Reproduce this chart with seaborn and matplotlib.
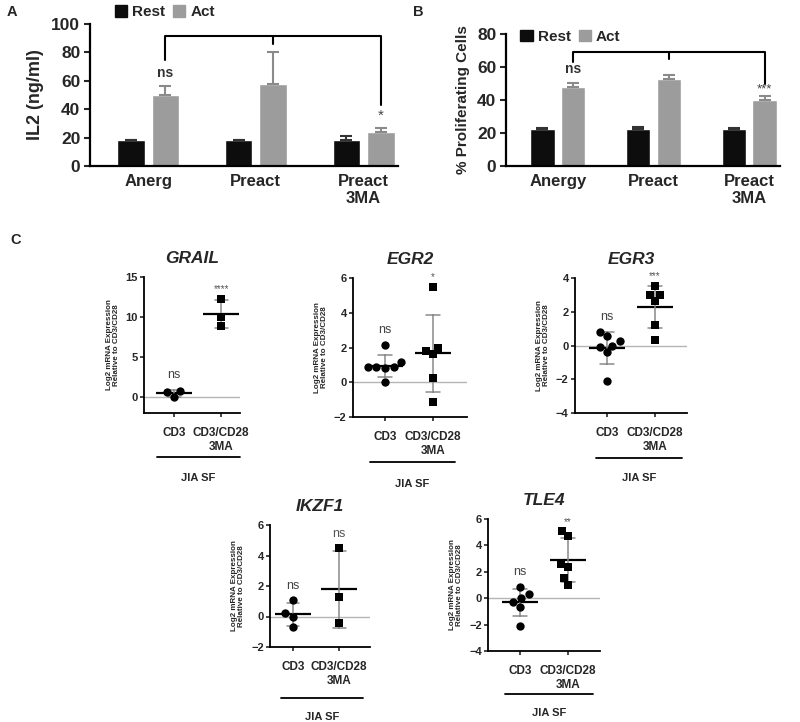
import numpy as np
import pandas as pd
import matplotlib
import matplotlib.pyplot as plt
import seaborn as sns
from matplotlib.lines import Line2D
from matplotlib.patches import Patch

matplotlib.use("Agg")

# ---- panel A / B : bar charts ----
bar_groups_a = ["Anerg", "Preact", "Preact\n3MA"]
bar_groups_b = ["Anergy", "Preact", "Preact\n3MA"]
conditions = ["Rest", "Act"]

il2_rest = [18, 18, 18]
il2_rest_err = [0.5, 0.5, 3]
il2_act = [50, 57.5, 24]
il2_act_err = [6.5, 23, 2.5]

prolif_rest = [22.5, 22.5, 22.5]
prolif_rest_err = [0.5, 1, 0.5]
prolif_act = [48, 53, 40]
prolif_act_err = [2.3, 2.3, 2.7]

# ---- panel C : qPCR scatter ----
groups_c = ["CD3", "CD3/CD28\n3MA"]
genes = ["GRAIL", "EGR2", "EGR3", "IKZF1", "TLE4"]
cd3_values = {
    "GRAIL": [0.75, 0.0, 0.6],
    "EGR2": [2.15, 0.85, 0.8, 0.85, 0.9, 1.15, 0.0],
    "EGR3": [0.8, 0.25, 0.55, -0.1, 0.0, -0.4, -2.1],
    "IKZF1": [1.1, 0.2, 0.0, -0.7],
    "TLE4": [0.85, 0.0, 0.3, -0.3, -0.7, -2.1],
}
ma_values = {
    "GRAIL": [12.3, 10.0, 8.9],
    "EGR2": [5.5, 1.95, 1.6, 1.8, 0.25, -1.15],
    "EGR3": [3.55, 3.0, 3.0, 2.65, 1.2, 0.3],
    "IKZF1": [4.5, 1.3, -0.45],
    "TLE4": [5.1, 4.75, 2.6, 2.35, 1.5, 1.0],
}
cd3_labels = {"GRAIL": "ns", "EGR2": "ns", "EGR3": "ns", "IKZF1": "ns", "TLE4": "ns"}
ma_labels = {"GRAIL": "****", "EGR2": "*", "EGR3": "***", "IKZF1": "ns", "TLE4": "**"}
ylims = {"GRAIL": (-2, 15), "EGR2": (-2, 6), "EGR3": (-4, 4), "IKZF1": (-2, 6), "TLE4": (-4, 6)}
yticks = {"GRAIL": [0, 5, 10, 15], "EGR2": [-2, 0, 2, 4, 6], "EGR3": [-4, -2, 0, 2, 4],
          "IKZF1": [-2, 0, 2, 4, 6], "TLE4": [-4, -2, 0, 2, 4, 6]}

sns.set_theme(style="ticks")
plt.rcParams["font.family"] = ["Liberation Sans", "DejaVu Sans"]
plt.rcParams["font.weight"] = "bold"

W, H = 800, 722
fig = plt.figure(figsize=(8, 7.22), dpi=100)
fig.patch.set_facecolor("white")

BLACK = "#0d0d0d"
GREY = "#9c9c9c"


def px_axes(left, top, right, bottom):
    return fig.add_axes([left / W, 1 - bottom / H, (right - left) / W, (bottom - top) / H])


def fig_line(x0, x1, y, lw=1.3):
    fig.add_artist(Line2D([x0 / W, x1 / W], [1 - y / H, 1 - y / H],
                          transform=fig.transFigure, color="black", lw=lw))


def fig_text(x, y, s, **kw):
    fig.text(x / W, 1 - y / H, s, ha="center", va="center", **kw)


def bar_panel(ax, groups, rest, rest_err, act, act_err, ylim, ystep, ylabel, yl_size):
    df = pd.DataFrame({
        "group": groups * 2,
        "condition": ["Rest"] * 3 + ["Act"] * 3,
        "value": rest + act,
    })
    sns.barplot(data=df, x="group", y="value", hue="condition", hue_order=conditions,
                palette={"Rest": BLACK, "Act": GREY}, width=0.64, gap=0.2,
                errorbar=None, legend=False, saturation=1, ax=ax)
    bars = sorted(ax.patches, key=lambda p: p.get_x())
    errs = [e for pair in zip(rest_err, act_err) for e in pair]
    cols = [c for _ in groups for c in ("#333333", "#8a8a8a")]
    for p, e, c in zip(bars, errs, cols):
        xc = p.get_x() + p.get_width() / 2
        ax.errorbar(xc, p.get_height(), yerr=[[0], [e]], fmt="none", ecolor=c,
                    elinewidth=1.5, capsize=4, capthick=1.5, zorder=1)
    ax.set_ylim(*ylim)
    ax.set_yticks(np.arange(ylim[0], ylim[1] + 1, ystep))
    ax.set_xlim(-0.54, 2.32)
    ax.set_xlabel("")
    ax.set_ylabel(ylabel, fontsize=yl_size, fontweight="bold", labelpad=5)
    ax.tick_params(axis="y", labelsize=12.5, length=4, width=1.5, pad=3)
    ax.tick_params(axis="x", labelsize=12, length=0, pad=6)
    for lab in ax.get_xticklabels() + ax.get_yticklabels():
        lab.set_fontweight("bold")
    for lab in ax.get_xticklabels():
        lab.set_linespacing(1.15)
    sns.despine(ax=ax)
    for s in ("left", "bottom"):
        ax.spines[s].set_linewidth(1.6)
        ax.spines[s].set_color("black")
    return bars


def bracket(ax, bars, top, left_y, right_y, mid_y):
    # bars sorted by x: Rest0, Act0, Rest1, Act1, Rest2, Act2
    xs = [b.get_x() + b.get_width() / 2 for b in bars]
    xl, xm, xr = xs[1], xs[3], xs[5]
    ax.plot([xl, xl, xr, xr], [left_y, top, top, right_y], color="black", lw=1.5,
            clip_on=False)
    ax.plot([xm, xm], [top, mid_y], color="black", lw=1.5, clip_on=False)
    return xs


legend_handles = [Patch(facecolor=BLACK, edgecolor=BLACK, label="Rest"),
                  Patch(facecolor=GREY, edgecolor=GREY, label="Act")]

# ---- A ----
axA = px_axes(90, 24, 398, 166)
barsA = bar_panel(axA, bar_groups_a, il2_rest, il2_rest_err, il2_act, il2_act_err,
                  (0, 100), 20, "IL2 (ng/ml)", 13)
xsA = bracket(axA, barsA, 91.5, 75, 43, 86)
axA.text(xsA[1], 65.5, "ns", ha="center", va="center", fontsize=10, color="#333333")
axA.text(xsA[5], 35.5, "*", ha="center", va="center", fontsize=11, color="#444444",
         fontweight="normal")
axA.legend(handles=legend_handles, ncol=2, frameon=False, loc="center left",
           bbox_to_anchor=(0.06, 1.085), handlelength=0.8, handleheight=0.8,
           handletextpad=0.35, columnspacing=0.5, prop={"size": 11, "weight": "bold"},
           borderaxespad=0)
fig_text(12, 12, "A", fontsize=10.5, fontweight="bold")

# ---- B ----
axB = px_axes(506, 34, 780, 166)
barsB = bar_panel(axB, bar_groups_b, prolif_rest, prolif_rest_err, prolif_act,
                  prolif_act_err, (0, 80), 20, "% Proliferating Cells", 11)
xsB = bracket(axB, barsB, 69, 63, 50, 65)
axB.text(xsB[1], 59, "ns", ha="center", va="center", fontsize=10, color="#333333")
axB.text(xsB[5], 46.5, "***", ha="center", va="center", fontsize=9.5, color="#444444",
         fontweight="normal")
axB.legend(handles=legend_handles, ncol=2, frameon=False, loc="center left",
           bbox_to_anchor=(0.03, 0.98), handlelength=0.8, handleheight=0.8,
           handletextpad=0.35, columnspacing=0.5, prop={"size": 11, "weight": "bold"},
           borderaxespad=0)
fig_text(418, 12, "B", fontsize=10.5, fontweight="bold")

fig_text(16, 240, "C", fontsize=10.5, fontweight="bold")

# ---- C panels ----
# pixel boxes (left, top, right, bottom), x-limits, and JIA SF decoration
boxes = {
    "GRAIL": ((144, 277, 240, 413), (-0.64, 1.4), (157, 240, 457, 478)),
    "EGR2": ((353, 278, 467, 417), (-0.67, 1.71), (370, 455, 462, 484)),
    "EGR3": ((575, 278, 687, 413), (-0.67, 1.67), (596, 682, 458, 478)),
    "IKZF1": ((270, 525, 370, 647), (-0.5, 1.67), (281, 363, 698, 717)),
    "TLE4": ((488, 519, 600, 651), (-0.67, 1.67), (505, 593, 694, 713)),
}

for gene in genes:
    (l, t, r, b), xlim, (jx0, jx1, jy, jty) = boxes[gene]
    ax = px_axes(l, t, r, b)
    df_cd3 = pd.DataFrame({"group": groups_c[0], "value": cd3_values[gene]})
    df_ma = pd.DataFrame({"group": groups_c[1], "value": ma_values[gene]})
    df_all = pd.concat([df_cd3, df_ma], ignore_index=True)

    ax.axhline(0, color="#b5b5b5", lw=1, zorder=0)
    sns.pointplot(data=df_all, x="group", y="value", order=groups_c, estimator="mean",
                  errorbar="sd", capsize=0.28, color="black", markers="_",
                  markersize=26, markeredgewidth=1.6, linestyle="none",
                  err_kws={"color": "#8a8a8a", "linewidth": 1.1}, ax=ax)
    sns.swarmplot(data=df_cd3, x="group", y="value", order=groups_c, marker="o",
                  color="black", size=6, ax=ax, zorder=3)
    sns.swarmplot(data=df_ma, x="group", y="value", order=groups_c, marker="s",
                  color="black", size=5.5, ax=ax, zorder=3)

    ax.set_xlim(*xlim)
    ax.set_ylim(*ylims[gene])
    ax.set_yticks(yticks[gene])
    ax.set_xticks([0, 1])
    ax.set_xticklabels(groups_c)
    ax.set_xlabel("")
    ax.set_ylabel("Log2 mRNA Expression\nRelative to CD3/CD28", fontsize=5.8,
                  fontweight="bold", labelpad=4, linespacing=1.0)
    ax.tick_params(axis="y", labelsize=8, length=3, width=1.2, pad=1.5)
    ax.tick_params(axis="x", labelsize=8.5, length=3, width=1.2, pad=7)
    for lab in ax.get_xticklabels() + ax.get_yticklabels():
        lab.set_fontweight("bold")
    sns.despine(ax=ax)
    for s in ("left", "bottom"):
        ax.spines[s].set_linewidth(1.3)
        ax.spines[s].set_color("black")

    span = ylims[gene][1] - ylims[gene][0]
    cd3_top = np.mean(cd3_values[gene]) + np.std(cd3_values[gene], ddof=1)
    cd3_top = max(cd3_top, max(cd3_values[gene]))
    ma_top = max(ma_values[gene])
    ax.text(0, cd3_top + 0.11 * span, cd3_labels[gene], ha="center", va="center",
            fontsize=9, color="#444444", fontweight="normal")
    lab = ma_labels[gene]
    ax.text(1, ma_top + (0.11 if lab == "ns" else 0.07) * span, lab, ha="center",
            va="center", fontsize=9 if lab == "ns" else 7, color="#555555",
            fontweight="normal")

    ax.set_title(gene, fontsize=12.5, fontweight="bold", style="italic", pad=10)
    fig_line(jx0, jx1, jy)
    fig_text((jx0 + jx1) / 2, jty, "JIA SF", fontsize=8, fontweight="bold")

fig.savefig("out.png", dpi=100, facecolor="white")
